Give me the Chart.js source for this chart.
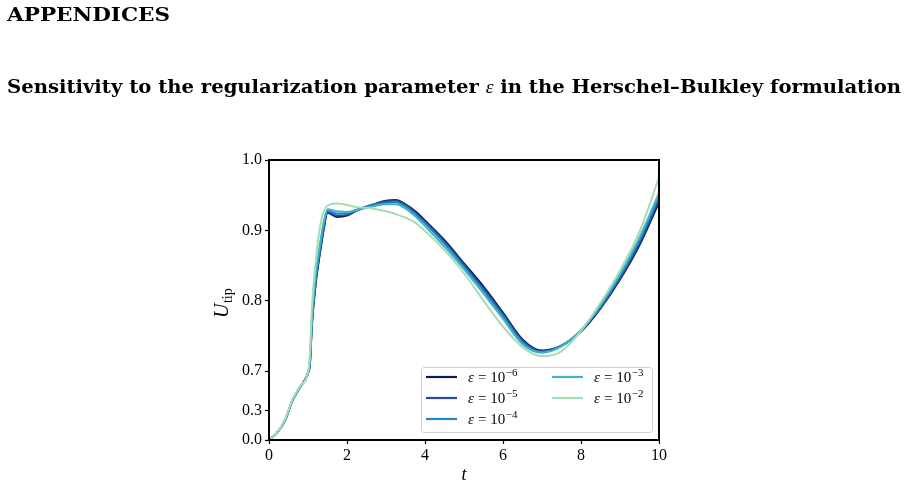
<!DOCTYPE html>
<html><head><meta charset="utf-8">
<script src="https://cdn.jsdelivr.net/npm/chart.js@4/dist/chart.umd.min.js"></script>
<style>
html,body{margin:0;padding:0;background:#fff;width:908px;height:488px;overflow:hidden;}
#wrap{position:relative;width:908px;height:488px;}
canvas{position:absolute;left:0;top:0;}
.h{position:absolute;left:7px;font-family:"DejaVu Serif",serif;font-weight:bold;white-space:nowrap;transform-origin:0 0;color:#000;line-height:22px;}
#h1{top:4px;font-size:18px;}
#h2{top:76px;font-size:18px;}
</style></head><body>
<div id="wrap">
<canvas id="c" width="908" height="488"></canvas>
<div class="h" id="h1">APPENDICES</div>
<div class="h" id="h2">Sensitivity to the regularization parameter <span style="font-style:italic;font-weight:normal;font-family:'Liberation Serif',serif">ε</span> in the Herschel–Bulkley formulation</div>
</div>
<script>
// ---- data ----
const tGrid = [0,0.2,0.4,0.6,0.8,1.0,1.05,1.1,1.2,1.3,1.4,1.5,1.75,2.0,2.25,2.5,2.75,3.0,3.25,3.5,3.75,4.0,4.5,5.0,5.5,6.0,6.5,7.0,7.5,8.0,8.5,9.0,9.5,10];
const uEps6 = [0,0.07,0.19,0.40,0.54,0.68,0.71,0.765,0.825,0.865,0.900,0.925,0.919,0.921,0.928,0.933,0.938,0.942,0.943,0.937,0.927,0.914,0.886,0.853,0.820,0.783,0.745,0.729,0.736,0.756,0.789,0.830,0.879,0.940];
const uEps5 = [0,0.07,0.19,0.40,0.54,0.68,0.712,0.767,0.828,0.868,0.903,0.926,0.921,0.922,0.929,0.934,0.938,0.941,0.942,0.936,0.925,0.912,0.884,0.851,0.817,0.781,0.743,0.728,0.736,0.757,0.790,0.832,0.882,0.944];
const uEps4 = [0,0.07,0.19,0.40,0.54,0.68,0.714,0.770,0.832,0.872,0.906,0.928,0.924,0.924,0.929,0.933,0.937,0.939,0.940,0.934,0.923,0.910,0.881,0.848,0.814,0.778,0.741,0.727,0.736,0.758,0.792,0.835,0.886,0.948];
const uEps3 = [0,0.07,0.19,0.40,0.54,0.68,0.716,0.775,0.838,0.878,0.911,0.930,0.927,0.926,0.929,0.932,0.935,0.937,0.937,0.931,0.920,0.906,0.877,0.845,0.810,0.774,0.738,0.726,0.735,0.758,0.794,0.838,0.890,0.953];
const uEps2 = [0,0.07,0.20,0.41,0.55,0.69,0.725,0.790,0.857,0.902,0.927,0.935,0.938,0.936,0.933,0.932,0.930,0.927,0.923,0.918,0.911,0.899,0.872,0.839,0.800,0.763,0.734,0.721,0.728,0.757,0.797,0.843,0.898,0.975];
const epsExponents = ['−6','−5','−4','−3','−2'];
const xTicks = [0,2,4,6,8,10];
const yTicks = [0,0.3,0.7,0.8,0.9,1.0];

const seriesValues = [uEps6,uEps5,uEps4,uEps3,uEps2];
const palette = ['#0b1d5a','#2a4b9b','#1f88c2','#41b4c3','#a6dcb6'];

// ---- piecewise (broken) linear y scale ----
const BREAK = 0.7, LOWFRAC = 69/280;
class BrokenLinearScale extends Chart.LinearScale {
  static id = 'brokenLinear';
  static defaults = Chart.LinearScale.defaults;
  _dec(v){ return v <= BREAK ? (v/BREAK)*LOWFRAC : LOWFRAC + (v-BREAK)/(1-BREAK)*(1-LOWFRAC); }
  getPixelForValue(v){ return this.getPixelForDecimal(this._dec(v)); }
  getValueForPixel(p){ const d = this.getDecimalForPixel(p); return d <= LOWFRAC ? d/LOWFRAC*BREAK : BREAK + (d-LOWFRAC)/(1-LOWFRAC)*(1-BREAK); }
}
Chart.register(BrokenLinearScale);

const SERIF = '"Liberation Serif", "Times New Roman", serif';

const framePlugin = {
  id:'frameLegend',
  afterDatasetsDraw(chart){
    const ctx = chart.ctx, a = chart.chartArea;
    ctx.save();
    ctx.strokeStyle = '#000'; ctx.lineWidth = 2;
    ctx.strokeRect(a.left, a.top, a.right-a.left, a.bottom-a.top);
    // legend
    const bx = a.right-238, by = a.bottom-73, bw = 231, bh = 65;
    ctx.beginPath();
    ctx.roundRect(bx+0.5, by+0.5, bw, bh, 3);
    ctx.fillStyle = 'rgba(255,255,255,0.85)'; ctx.fill();
    ctx.strokeStyle = '#d0d0d0'; ctx.lineWidth = 1; ctx.stroke();
    const slots = [[0,0],[0,1],[0,2],[1,0],[1,1]];
    chart.data.datasets.forEach((ds,i)=>{
      const [col,row] = slots[i];
      const y = by + 10 + row*21;
      const lx = bx + 5 + col*126;
      ctx.strokeStyle = ds.borderColor; ctx.lineWidth = 2.2;
      ctx.beginPath(); ctx.moveTo(lx, y); ctx.lineTo(lx+31, y); ctx.stroke();
      let tx = lx + 42;
      ctx.fillStyle = '#000'; ctx.textBaseline = 'alphabetic'; ctx.textAlign='left';
      const base = y + 5;
      ctx.font = 'italic 15px ' + SERIF; ctx.fillText('ε', tx, base); tx += ctx.measureText('ε').width + 4;
      ctx.font = '15px ' + SERIF; ctx.fillText('=', tx, base); tx += ctx.measureText('=').width + 4;
      ctx.fillText('10', tx, base); tx += ctx.measureText('10').width + 0.5;
      ctx.font = '11px ' + SERIF; ctx.fillText(ds.expo, tx, base - 6);
    });
    ctx.restore();
  },
  afterDraw(chart){
    const ctx = chart.ctx, a = chart.chartArea;
    ctx.save();
    ctx.translate(a.left - 41, a.top + 158);
    ctx.rotate(-Math.PI/2);
    ctx.fillStyle = '#000'; ctx.textBaseline='alphabetic'; ctx.textAlign='left';
    ctx.font = 'italic 20px ' + SERIF; ctx.fillText('U', 0, 0);
    const w = ctx.measureText('U').width;
    ctx.font = '14px ' + SERIF; ctx.fillText('tip', w + 0.5, 4);
    ctx.restore();
  }
};

new Chart(document.getElementById('c'), {
  type:'line',
  data:{
    datasets: seriesValues.map((vals,i)=>({
      label: 'ε = 10' + epsExponents[i],
      expo: epsExponents[i],
      data: tGrid.map((t,k)=>({x:t, y:vals[k]})),
      borderColor: palette[i],
      borderWidth: 2,
      pointRadius: 0,
      fill:false,
      cubicInterpolationMode:'monotone',
      order: 4-i
    }))
  },
  options:{
    responsive:false, animation:false, devicePixelRatio:1,
    layout:{padding:{left:0, top:160, right:249, bottom:0}},
    plugins:{legend:{display:false}, tooltip:{enabled:false}},
    scales:{
      x:{
        type:'linear', min:0, max:10,
        afterBuildTicks: s => { s.ticks = xTicks.map(v=>({value:v})); },
        afterFit: s => { s.height = 48; },
        ticks:{autoSkip:false, maxRotation:0, padding:2, color:'#000', font:{family:SERIF, size:16}, callback:v=>String(v)},
        grid:{drawOnChartArea:false, tickLength:4, color:'#000', tickWidth:1.2},
        border:{color:'#000', width:2},
        title:{display:true, text:'t', color:'#000', font:{family:SERIF, size:18, style:'italic'}, padding:{top:0,bottom:2}}
      },
      y:{
        type:'brokenLinear', min:0, max:1,
        afterBuildTicks: s => { s.ticks = yTicks.map(v=>({value:v})); },
        afterFit: s => { s.width = 269; },
        ticks:{autoSkip:false, padding:3, color:'#000', font:{family:SERIF, size:16}, callback:v=>Number(v).toFixed(1)},
        grid:{drawOnChartArea:false, tickLength:4, color:'#000', tickWidth:1.2},
        border:{color:'#000', width:2}
      }
    }
  },
  plugins:[framePlugin]
});

// fit heading widths to the reference
function fit(id, target){
  const el = document.getElementById(id);
  const w = el.getBoundingClientRect().width;
  el.style.transform = 'scaleX(' + (target/w) + ')';
}
fit('h1', 163);
fit('h2', 894);
</script>
</body></html>
